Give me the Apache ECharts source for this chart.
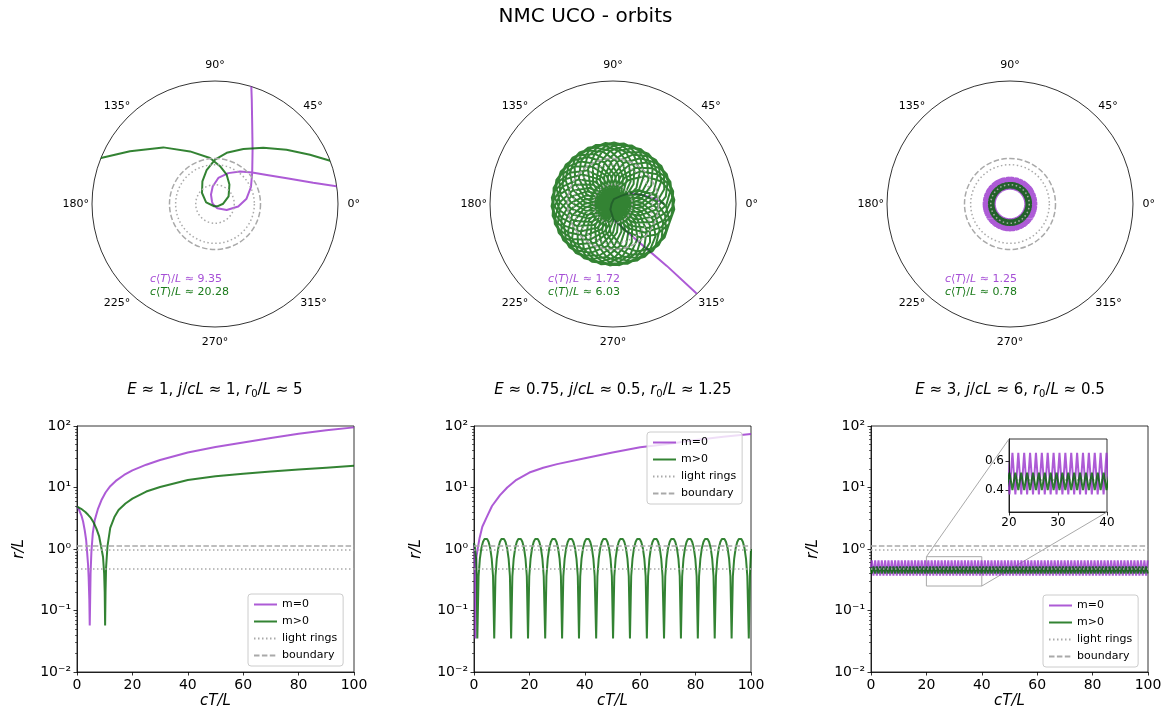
<!DOCTYPE html>
<html><head><meta charset="utf-8">
<script src="https://cdn.jsdelivr.net/npm/echarts@6/dist/echarts.min.js"></script>
<style>html,body{margin:0;padding:0;background:#fff}#c{width:1171px;height:715px}</style>
</head><body><div id="c"></div>
<script>
// ================= DATA =================
const xTicks = [0, 20, 40, 60, 80, 100];
const yTicks = [0.01, 0.1, 1, 10, 100];
const yTickLabels = ['10⁻²', '10⁻¹', '10⁰', '10¹', '10²'];
const angleTicks = [0, 45, 90, 135, 180, 225, 270, 315];
const rMax = 3;
const lightRings = [0.47, 0.96];
const boundary = [1.11];
const paramE = [1, 0.75, 3];
const paramJ = [1, 0.5, 6];
const paramR0 = [5, 1.25, 0.5];
const meanT0 = [9.35, 1.72, 1.25];
const meanTm = [20.28, 6.03, 0.78];
const insetX = [20, 40];
const insetY = [0.25, 0.75];
const insetYTicks = [0.4, 0.6];
const insetXTicks = [20, 30, 40];

// ---- panel 1 ----
const p1PurpleT = [0,0.8,1.6,2.2,2.8,3.3,3.6,4.0,4.2,4.45,4.6,4.75,4.9,5.2,5.7,6.4,7.5,8.8,10.3,12,14,17,20,25,30,40,50,60,70,80,90,100];
const p1PurpleR = [4.9,4.3,3.5,2.8,2.0,1.4,0.95,0.55,0.35,0.15,0.057,0.15,0.4,0.9,1.8,2.95,4.4,6.2,8.3,10.5,12.8,16,19,23.5,28,37,45.5,54,64,75,85,95];
const p1GreenT = [0,1.5,3,4,5,6,7,8,8.7,9.4,9.8,10.0,10.15,10.3,10.5,11,12,13.5,15,17.5,20,25,30,40,50,60,70,80,90,100];
const p1GreenR = [4.9,4.5,4.0,3.6,3.2,2.7,2.15,1.6,1.1,0.74,0.4,0.2,0.057,0.2,0.5,1.1,2.2,3.3,4.3,5.5,6.6,8.6,10.2,13.2,15.2,16.8,18.2,19.6,21,22.5];
const p1PurpleOrbitR = [3.35,3.05,2.45,1.86,1.45,1.19,1.0,0.82,0.64,0.43,0.25,0.1,0.058,0.12,0.32,0.57,0.78,0.97,1.19,1.61,2.17,2.7,3.12,3.4];
const p1PurpleOrbitTh = [7,8,12.2,19.7,29.3,40.3,52.3,66.7,82.7,97.5,113,138,172,298,333,354,9.6,25.3,40.3,55.3,65.3,70.6,73.6,74.8];
const p1GreenOrbitR = [3.35,3.0,2.44,1.87,1.42,1.13,0.93,0.77,0.59,0.38,0.2,0.08,0.058,0.22,0.415,0.63,0.85,1.08,1.28,1.51,1.81,2.19,2.61,3.0,3.3];
const p1GreenOrbitTh = [161,158,148.2,132.4,115.4,96.2,82.4,68.3,53.4,29.3,2,315,250,169.5,139.8,119.2,103.9,90,77.1,62.7,49.4,37.2,27.4,20.6,19];

// ---- panel 2 ----
const p2PurpleT = [0,0.2,0.35,0.45,0.5,0.55,0.65,0.9,1.4,2,3,4.6,6.5,9.4,12,15,20,25,30,40,50,60,70,80,90,100];
const p2PurpleR = [1.25,0.9,0.4,0.15,0.035,0.15,0.4,0.75,1.05,1.5,2.3,3.3,5,7.5,10,13,17.5,21,24,30,37,45,51,59,67,74];
const p2PurpleOrbitR = [1.25,1.06,0.78,0.49,0.28,0.12,0.035,0.15,0.38,0.8,1.27,2.0,2.97,3.3];
const p2PurpleOrbitTh = [0,6,16,33,45,80,170,245,272,298,306,311,313,313.5];
const p2GreenT = [0,0.35,0.75,1.0,
1.2,1.65,2.13,2.68,3.23,3.75,4.26,4.77,5.29,5.84,6.39,6.87,
7.3,7.75,8.23,8.78,9.33,9.85,10.36,10.87,11.39,11.94,12.49,12.97,
13.4,13.85,14.33,14.88,15.43,15.95,16.46,16.97,17.49,18.04,18.59,19.07,
19.5,19.95,20.43,20.98,21.53,22.05,22.56,23.07,23.59,24.14,24.69,25.17,
25.7,26.15,26.63,27.18,27.73,28.25,28.76,29.27,29.79,30.34,30.89,31.37,
31.8,32.25,32.73,33.28,33.83,34.35,34.86,35.37,35.89,36.44,36.99,37.47,
37.9,38.35,38.83,39.38,39.93,40.45,40.96,41.47,41.99,42.54,43.09,43.57,
44.1,44.55,45.03,45.58,46.13,46.65,47.16,47.67,48.19,48.74,49.29,49.77,
50.2,50.65,51.13,51.68,52.23,52.75,53.26,53.77,54.29,54.84,55.39,55.87,
56.3,56.75,57.23,57.78,58.33,58.85,59.36,59.87,60.39,60.94,61.49,61.97,
62.4,62.85,63.33,63.88,64.43,64.95,65.46,65.97,66.49,67.04,67.59,68.07,
68.6,69.05,69.53,70.08,70.63,71.15,71.66,72.17,72.69,73.24,73.79,74.27,
74.7,75.15,75.63,76.18,76.73,77.25,77.76,78.27,78.79,79.34,79.89,80.37,
80.8,81.25,81.73,82.28,82.83,83.35,83.86,84.37,84.89,85.44,85.99,86.47,
86.9,87.35,87.83,88.38,88.93,89.45,89.96,90.47,90.99,91.54,92.09,92.57,
93.0,93.45,93.93,94.48,95.03,95.55,96.06,96.57,97.09,97.64,98.19,98.67,
99.2,99.6,100];
const p2GreenR = [1.25,1.04,0.70,0.36,
0.035,0.36,0.70,1.04,1.30,1.45,1.5,1.45,1.30,1.04,0.70,0.36,
0.035,0.36,0.70,1.04,1.30,1.45,1.5,1.45,1.30,1.04,0.70,0.36,
0.035,0.36,0.70,1.04,1.30,1.45,1.5,1.45,1.30,1.04,0.70,0.36,
0.035,0.36,0.70,1.04,1.30,1.45,1.5,1.45,1.30,1.04,0.70,0.36,
0.035,0.36,0.70,1.04,1.30,1.45,1.5,1.45,1.30,1.04,0.70,0.36,
0.035,0.36,0.70,1.04,1.30,1.45,1.5,1.45,1.30,1.04,0.70,0.36,
0.035,0.36,0.70,1.04,1.30,1.45,1.5,1.45,1.30,1.04,0.70,0.36,
0.035,0.36,0.70,1.04,1.30,1.45,1.5,1.45,1.30,1.04,0.70,0.36,
0.035,0.36,0.70,1.04,1.30,1.45,1.5,1.45,1.30,1.04,0.70,0.36,
0.035,0.36,0.70,1.04,1.30,1.45,1.5,1.45,1.30,1.04,0.70,0.36,
0.035,0.36,0.70,1.04,1.30,1.45,1.5,1.45,1.30,1.04,0.70,0.36,
0.035,0.36,0.70,1.04,1.30,1.45,1.5,1.45,1.30,1.04,0.70,0.36,
0.035,0.36,0.70,1.04,1.30,1.45,1.5,1.45,1.30,1.04,0.70,0.36,
0.035,0.36,0.70,1.04,1.30,1.45,1.5,1.45,1.30,1.04,0.70,0.36,
0.035,0.36,0.70,1.04,1.30,1.45,1.5,1.45,1.30,1.04,0.70,0.36,
0.035,0.36,0.70,1.04,1.30,1.45,1.5,1.45,1.30,1.04,0.70,0.36,
0.035,0.36,1.0];
// full orbit (integration runs past cT/L = 100, so the polar view shows more loops)
const p2GreenOrbitR = [1.25,1.04,0.70,0.36,
0.035,0.36,0.70,1.04,1.30,1.45,1.5,1.45,1.30,1.04,0.70,0.36,
0.035,0.36,0.70,1.04,1.30,1.45,1.5,1.45,1.30,1.04,0.70,0.36,
0.035,0.36,0.70,1.04,1.30,1.45,1.5,1.45,1.30,1.04,0.70,0.36,
0.035,0.36,0.70,1.04,1.30,1.45,1.5,1.45,1.30,1.04,0.70,0.36,
0.035,0.36,0.70,1.04,1.30,1.45,1.5,1.45,1.30,1.04,0.70,0.36,
0.035,0.36,0.70,1.04,1.30,1.45,1.5,1.45,1.30,1.04,0.70,0.36,
0.035,0.36,0.70,1.04,1.30,1.45,1.5,1.45,1.30,1.04,0.70,0.36,
0.035,0.36,0.70,1.04,1.30,1.45,1.5,1.45,1.30,1.04,0.70,0.36,
0.035,0.36,0.70,1.04,1.30,1.45,1.5,1.45,1.30,1.04,0.70,0.36,
0.035,0.36,0.70,1.04,1.30,1.45,1.5,1.45,1.30,1.04,0.70,0.36,
0.035,0.36,0.70,1.04,1.30,1.45,1.5,1.45,1.30,1.04,0.70,0.36,
0.035,0.36,0.70,1.04,1.30,1.45,1.5,1.45,1.30,1.04,0.70,0.36,
0.035,0.36,0.70,1.04,1.30,1.45,1.5,1.45,1.30,1.04,0.70,0.36,
0.035,0.36,0.70,1.04,1.30,1.45,1.5,1.45,1.30,1.04,0.70,0.36,
0.035,0.36,0.70,1.04,1.30,1.45,1.5,1.45,1.30,1.04,0.70,0.36,
0.035,0.36,0.70,1.04,1.30,1.45,1.5,1.45,1.30,1.04,0.70,0.36,
0.035,0.36,0.70,1.04,1.30,1.45,1.5,1.45,1.30,1.04,0.70,0.36,
0.035,0.36,0.70,1.04,1.30,1.45,1.5,1.45,1.30,1.04,0.70,0.36,
0.035,0.36,0.70,1.04,1.30,1.45,1.5,1.45,1.30,1.04,0.70,0.36,
0.035,0.36,0.70,1.04,1.30,1.45,1.5,1.45,1.30,1.04,0.70,0.36,
0.035,0.36,0.70,1.04,1.30,1.45,1.5,1.45,1.30,1.04,0.70,0.36,
0.035,0.36,0.70,1.04,1.30,1.45,1.5,1.45,1.30,1.04,0.70,0.36,
0.035,0.36,0.70,1.04,1.30,1.45,1.5,1.45,1.30,1.04,0.70,0.36,
0.035,0.36,0.70,1.04,1.30,1.45,1.5,1.45,1.30,1.04,0.70,0.36,
0.035,0.36,0.70,1.04,1.30,1.45,1.5,1.45,1.30,1.04,0.70,0.36,
0.035,0.36,0.70,1.04,1.30,1.45,1.5,1.45,1.30,1.04,0.70,0.36,
0.035,0.36,0.70,1.04,1.30,1.45,1.5,1.45,1.30,1.04,0.70,0.36,
0.035,0.36,0.70,1.04,1.30,1.45,1.5,1.45,1.30,1.04,0.70,0.36,
0.035,0.36,0.70,1.04,1.30,1.45,1.5,1.45,1.30,1.04,0.70,0.36,
0.035,0.36,0.70,1.04,1.30,1.45,1.5,1.45,1.30,1.04,0.70,0.36,
0.035,0.36,0.70,1.04,1.30,1.45,1.5,1.45,1.30,1.04,0.70,0.36,
0.035,0.36,0.70,1.04,1.30,1.45,1.5,1.45,1.30,1.04,0.70,0.36,
0.035,0.36,0.70,1.04,1.30,1.45,1.5,1.45,1.30,1.04,0.70,0.36,
0.035,0.36,0.70,1.04,1.30,1.45,1.5,1.45,1.30,1.04,0.70,0.36,
0.035,0.36,0.70,1.04,1.30,1.45,1.5,1.45,1.30,1.04,0.70,0.36,
0.035,0.36,0.70,1.04,1.30,1.45,1.5,1.45,1.30,1.04,0.70,0.36,
0.035,0.36,0.70,1.04,1.30,1.45,1.5,1.45,1.30,1.04,0.70,0.36,
0.035,0.36,0.70,1.04,1.30,1.45,1.5,1.45,1.30,1.04,0.70,0.36,
0.035,0.36,0.70,1.04,1.30,1.45,1.5,1.45,1.30,1.04,0.70,0.36,
0.035,0.36,0.70,1.04,1.30,1.45,1.5,1.45,1.30,1.04,0.70,0.36,
0.035];
const p2GreenOrbitTh = [0,12,28,42,
-94,-81,-67,-51,-35,-20,-5,10,25,41,57,71,
-85,-72,-58,-42,-26,-11,4,19,34,50,66,80,
-77,-64,-50,-34,-18,-3,12,27,42,58,74,88,
-68,-55,-41,-25,-9,6,21,36,51,67,83,97,
-60,-47,-33,-17,-1,14,29,44,59,75,91,105,
-51,-38,-24,-8,8,23,38,53,68,84,100,114,
-43,-30,-16,0,16,31,46,61,76,92,108,122,
-34,-21,-7,9,25,40,55,70,85,101,117,131,
-26,-13,1,17,33,48,63,78,93,109,125,139,
-17,-4,10,26,42,57,72,87,102,118,134,148,
-9,4,18,34,50,65,80,95,110,126,142,156,
0,13,27,43,59,74,89,104,119,135,151,165,
8,21,35,51,67,82,97,112,127,143,159,173,
17,30,44,60,76,91,106,121,136,152,168,182,
25,38,52,68,84,99,114,129,144,160,176,190,
34,47,61,77,93,108,123,138,153,169,185,199,
42,55,69,85,101,116,131,146,161,177,193,207,
51,64,78,94,110,125,140,155,170,186,202,216,
59,72,86,102,118,133,148,163,178,194,210,224,
68,81,95,111,127,142,157,172,187,203,219,233,
76,89,103,119,135,150,165,180,195,211,227,241,
85,98,112,128,144,159,174,189,204,220,236,250,
93,106,120,136,152,167,182,197,212,228,244,258,
102,115,129,145,161,176,191,206,221,237,253,267,
110,123,137,153,169,184,199,214,229,245,261,275,
119,132,146,162,178,193,208,223,238,254,270,284,
127,140,154,170,186,201,216,231,246,262,278,292,
136,149,163,179,195,210,225,240,255,271,287,301,
144,157,171,187,203,218,233,248,263,279,295,309,
153,166,180,196,212,227,242,257,272,288,304,318,
161,174,188,204,220,235,250,265,280,296,312,326,
170,183,197,213,229,244,259,274,289,305,321,335,
178,191,205,221,237,252,267,282,297,313,329,343,
187,200,214,230,246,261,276,291,306,322,338,352,
195,208,222,238,254,269,284,299,314,330,346,360,
204,217,231,247,263,278,293,308,323,339,355,369,
212,225,239,255,271,286,301,316,331,347,363,377,
221,234,248,264,280,295,310,325,340,356,372,386,
229,242,256,272,288,303,318,333,348,364,380,394,
238,251,265,281,297,312,327,342,357,373,389,403,
246];

// ---- panel 3 ----
const p3T = [0,0.3,0.9,1.5,2.1,2.7,3.3,3.9,4.5,5.1,
5.7,6.3,6.9,7.5,8.1,8.7,9.3,9.9,10.5,11.1,
11.7,12.3,12.9,13.5,14.1,14.7,15.3,15.9,16.5,17.1,
17.7,18.3,18.9,19.5,20.1,20.7,21.3,21.9,22.5,23.1,
23.7,24.3,24.9,25.5,26.1,26.7,27.3,27.9,28.5,29.1,
29.7,30.3,30.9,31.5,32.1,32.7,33.3,33.9,34.5,35.1,
35.7,36.3,36.9,37.5,38.1,38.7,39.3,39.9,40.5,41.1,
41.7,42.3,42.9,43.5,44.1,44.7,45.3,45.9,46.5,47.1,
47.7,48.3,48.9,49.5,50.1,50.7,51.3,51.9,52.5,53.1,
53.7,54.3,54.9,55.5,56.1,56.7,57.3,57.9,58.5,59.1,
59.7,60.3,60.9,61.5,62.1,62.7,63.3,63.9,64.5,65.1,
65.7,66.3,66.9,67.5,68.1,68.7,69.3,69.9,70.5,71.1,
71.7,72.3,72.9,73.5,74.1,74.7,75.3,75.9,76.5,77.1,
77.7,78.3,78.9,79.5,80.1,80.7,81.3,81.9,82.5,83.1,
83.7,84.3,84.9,85.5,86.1,86.7,87.3,87.9,88.5,89.1,
89.7,90.3,90.9,91.5,92.1,92.7,93.3,93.9,94.5,95.1,
95.7,96.3,96.9,97.5,98.1,98.7,99.3,99.9];
const p3PurpleR = [0.5,0.655,0.37,0.655,0.37,0.655,0.37,0.655,0.37,0.655,
0.37,0.655,0.37,0.655,0.37,0.655,0.37,0.655,0.37,0.655,
0.37,0.655,0.37,0.655,0.37,0.655,0.37,0.655,0.37,0.655,
0.37,0.655,0.37,0.655,0.37,0.655,0.37,0.655,0.37,0.655,
0.37,0.655,0.37,0.655,0.37,0.655,0.37,0.655,0.37,0.655,
0.37,0.655,0.37,0.655,0.37,0.655,0.37,0.655,0.37,0.655,
0.37,0.655,0.37,0.655,0.37,0.655,0.37,0.655,0.37,0.655,
0.37,0.655,0.37,0.655,0.37,0.655,0.37,0.655,0.37,0.655,
0.37,0.655,0.37,0.655,0.37,0.655,0.37,0.655,0.37,0.655,
0.37,0.655,0.37,0.655,0.37,0.655,0.37,0.655,0.37,0.655,
0.37,0.655,0.37,0.655,0.37,0.655,0.37,0.655,0.37,0.655,
0.37,0.655,0.37,0.655,0.37,0.655,0.37,0.655,0.37,0.655,
0.37,0.655,0.37,0.655,0.37,0.655,0.37,0.655,0.37,0.655,
0.37,0.655,0.37,0.655,0.37,0.655,0.37,0.655,0.37,0.655,
0.37,0.655,0.37,0.655,0.37,0.655,0.37,0.655,0.37,0.655,
0.37,0.655,0.37,0.655,0.37,0.655,0.37,0.655,0.37,0.655,
0.37,0.655,0.37,0.655,0.37,0.655,0.37,0.655];
const p3GreenR = [0.5,0.40,0.52,0.40,0.52,0.40,0.52,0.40,0.52,0.40,
0.52,0.40,0.52,0.40,0.52,0.40,0.52,0.40,0.52,0.40,
0.52,0.40,0.52,0.40,0.52,0.40,0.52,0.40,0.52,0.40,
0.52,0.40,0.52,0.40,0.52,0.40,0.52,0.40,0.52,0.40,
0.52,0.40,0.52,0.40,0.52,0.40,0.52,0.40,0.52,0.40,
0.52,0.40,0.52,0.40,0.52,0.40,0.52,0.40,0.52,0.40,
0.52,0.40,0.52,0.40,0.52,0.40,0.52,0.40,0.52,0.40,
0.52,0.40,0.52,0.40,0.52,0.40,0.52,0.40,0.52,0.40,
0.52,0.40,0.52,0.40,0.52,0.40,0.52,0.40,0.52,0.40,
0.52,0.40,0.52,0.40,0.52,0.40,0.52,0.40,0.52,0.40,
0.52,0.40,0.52,0.40,0.52,0.40,0.52,0.40,0.52,0.40,
0.52,0.40,0.52,0.40,0.52,0.40,0.52,0.40,0.52,0.40,
0.52,0.40,0.52,0.40,0.52,0.40,0.52,0.40,0.52,0.40,
0.52,0.40,0.52,0.40,0.52,0.40,0.52,0.40,0.52,0.40,
0.52,0.40,0.52,0.40,0.52,0.40,0.52,0.40,0.52,0.40,
0.52,0.40,0.52,0.40,0.52,0.40,0.52,0.40,0.52,0.40,
0.52,0.40,0.52,0.40,0.52,0.40,0.52,0.40];
const p3Th = [0,37,74,111,148,185,222,259,296,333,
370,407,444,481,518,555,592,629,666,703,
740,777,814,851,888,925,962,999,1036,1073,
1110,1147,1184,1221,1258,1295,1332,1369,1406,1443,
1480,1517,1554,1591,1628,1665,1702,1739,1776,1813,
1850,1887,1924,1961,1998,2035,2072,2109,2146,2183,
2220,2257,2294,2331,2368,2405,2442,2479,2516,2553,
2590,2627,2664,2701,2738,2775,2812,2849,2886,2923,
2960,2997,3034,3071,3108,3145,3182,3219,3256,3293,
3330,3367,3404,3441,3478,3515,3552,3589,3626,3663,
3700,3737,3774,3811,3848,3885,3922,3959,3996,4033,
4070,4107,4144,4181,4218,4255,4292,4329,4366,4403,
4440,4477,4514,4551,4588,4625,4662,4699,4736,4773,
4810,4847,4884,4921,4958,4995,5032,5069,5106,5143,
5180,5217,5254,5291,5328,5365,5402,5439,5476,5513,
5550,5587,5624,5661,5698,5735,5772,5809,5846,5883,
5920,5957,5994,6031,6068,6105,6142,6179];

// ================= BUILD =================
const FONT = 'DejaVu Sans';
const PURPLE = '#9932cc', GREEN = '#006400', GREY = '#a9a9a9';
const DOT = [1.5, 2.5], DASH = [5.5, 2.4];
const norm = a => ((a % 360) + 360) % 360;
const zipTR = (t, r) => t.map((v, i) => [v, r[i]]);
const zipRTh = (r, th) => r.map((v, i) => [v, norm(th[i])]);

const panels = [
  {t0: p1PurpleT, r0: p1PurpleR, tm: p1GreenT, rm: p1GreenR, o0: zipRTh(p1PurpleOrbitR, p1PurpleOrbitTh), om: zipRTh(p1GreenOrbitR, p1GreenOrbitTh)},
  {t0: p2PurpleT, r0: p2PurpleR, tm: p2GreenT, rm: p2GreenR, o0: zipRTh(p2PurpleOrbitR, p2PurpleOrbitTh), om: zipRTh(p2GreenOrbitR, p2GreenOrbitTh)},
  {t0: p3T, r0: p3PurpleR, tm: p3T, rm: p3GreenR, o0: zipRTh(p3PurpleR, p3Th), om: zipRTh(p3GreenR, p3Th)}
];

// layout
const cx = [215, 613, 1010], cy = 204, PR = 123;
const gLeft = [77, 474, 871], gTop = 426, gW = 277, gH = 246;
const legPos = [[248, 594], [647, 432], [1043, 595]];
// per-label padding so that each angle label is centred ~16px outside the circle
const angRich = {
  a0: {padding: [0, 0, 0, 12.5]}, a45: {padding: [0, 0, 7.5, 3.5]}, a90: {padding: [0, 0, 13, 0]},
  a135: {padding: [0, 0, 8, 0]}, a180: {padding: [0, 6, 0, 0]}, a225: {padding: [9, 0, 0, 0]},
  a270: {padding: [13, 0, 0, 0]}, a315: {padding: [8.5, 0, 0, 0.5]}
};

const minorTicks = [];
for (let k = -2; k <= 1; k++) for (let m = 2; m <= 9; m++) minorTicks.push(+(m * Math.pow(10, k)).toPrecision(3));

const polar = [], angleAxis = [], radiusAxis = [];
for (let i = 0; i < 3; i++) {
  for (let j = 0; j < 3; j++) {
    polar.push({center: [cx[i], cy], radius: PR});
    const pi = 3 * i + j;
    angleAxis.push({
      polarIndex: pi, type: 'value', min: 0, max: 360, startAngle: 0, clockwise: false,
      axisLine: {show: j === 0, lineStyle: {color: '#000', width: 0.8}},
      axisTick: {show: false}, splitLine: {show: false},
      axisLabel: j === 0 ? {show: true, customValues: angleTicks, formatter: v => `{a${v}|${v}°}`, rich: angRich,
        color: '#000', fontSize: 11, fontFamily: FONT, margin: -3} : {show: false}
    });
    const ringVals = j === 1 ? lightRings : boundary;
    radiusAxis.push(j === 0 ? {
      polarIndex: pi, type: 'value', min: 0, max: rMax,
      axisLine: {show: false}, axisTick: {show: false}, axisLabel: {show: false}, splitLine: {show: false}
    } : {
      polarIndex: pi, type: 'value', min: 0, max: rMax, z: 10,
      axisLine: {show: false},
      axisTick: {show: false, customValues: ringVals},
      axisLabel: {show: false, customValues: ringVals},
      splitLine: {show: true, lineStyle: {color: GREY, width: 1.5, type: j === 1 ? DOT : DASH}}
    });
  }
}

const grid = [0, 1, 2].map(i => ({left: gLeft[i], top: gTop, width: gW, height: gH, show: true, borderColor: '#000', borderWidth: 0.8, containLabel: false, outerBoundsMode: 'none'}));
grid.push({left: 1009, top: 439, width: 98, height: 73, show: true, borderColor: '#000', borderWidth: 0.8, backgroundColor: '#fff', containLabel: false, outerBoundsMode: 'none'});

const axTxt = {color: '#000', fontFamily: FONT};
const xAxis = [0, 1, 2].map(i => ({
  gridIndex: i, type: 'value', min: xTicks[0], max: xTicks[xTicks.length - 1], interval: xTicks[1] - xTicks[0],
  axisLine: {show: true, onZero: false, lineStyle: {color: '#000', width: 0.8}},
  axisTick: {show: true, length: 3.5, lineStyle: {color: '#000', width: 0.8}},
  axisLabel: Object.assign({fontSize: 14, margin: 6}, axTxt),
  splitLine: {show: false},
  name: 'cT/L', nameLocation: 'middle', nameGap: 22,
  nameTextStyle: Object.assign({fontStyle: 'italic', fontSize: 15}, axTxt)
}));
xAxis.push({
  gridIndex: 3, type: 'value', min: insetX[0], max: insetX[1], interval: 10,
  axisLine: {show: true, onZero: false, lineStyle: {color: '#000', width: 0.8}},
  axisTick: {show: true, length: 3.5, customValues: insetXTicks, lineStyle: {color: '#000', width: 0.8}},
  axisLabel: Object.assign({fontSize: 12, margin: 5, customValues: insetXTicks}, axTxt),
  splitLine: {show: false}
});
const yAxis = [0, 1, 2].map(i => ({
  gridIndex: i, type: 'log', logBase: 10, min: yTicks[0], max: yTicks[yTicks.length - 1], position: 'left',
  axisLine: {show: true, onZero: false, lineStyle: {color: '#000', width: 0.8}},
  axisTick: {show: true, length: 3.5, customValues: yTicks, lineStyle: {color: '#000', width: 0.8}},
  axisLabel: Object.assign({fontSize: 14, margin: 6, customValues: yTicks,
    formatter: v => yTickLabels[Math.round(Math.log10(v)) - Math.round(Math.log10(yTicks[0]))]}, axTxt),
  splitLine: {show: false},
  name: 'r/L', nameLocation: 'middle', nameGap: 50,
  nameTextStyle: Object.assign({fontStyle: 'italic', fontSize: 15}, axTxt)
}));
for (let i = 0; i < 3; i++) yAxis.push({
  gridIndex: i, type: 'log', logBase: 10, min: yTicks[0], max: yTicks[yTicks.length - 1], position: 'left', offset: 0,
  axisLine: {show: false}, axisLabel: {show: false}, splitLine: {show: false},
  axisTick: {show: true, length: 2, customValues: minorTicks, lineStyle: {color: '#000', width: 0.6}}
});
yAxis.push({
  gridIndex: 3, type: 'value', min: insetY[0], max: insetY[1],
  axisLine: {show: true, onZero: false, lineStyle: {color: '#000', width: 0.8}},
  axisTick: {show: true, length: 3.5, customValues: insetYTicks, lineStyle: {color: '#000', width: 0.8}},
  axisLabel: Object.assign({fontSize: 12, margin: 5, customValues: insetYTicks, formatter: v => v.toFixed(1)}, axTxt),
  splitLine: {show: false}
});

const lineSty = c => ({color: c, width: 2, opacity: 0.8});
const series = [];
for (let i = 0; i < 3; i++) {
  const P = panels[i];
  series.push({type: 'line', name: 'm=0', coordinateSystem: 'polar', polarIndex: 3 * i, data: P.o0, symbol: 'none', lineStyle: lineSty(PURPLE), z: 2, silent: true});
  series.push({type: 'line', name: 'm>0', coordinateSystem: 'polar', polarIndex: 3 * i, data: P.om, symbol: 'none', lineStyle: lineSty(GREEN), z: 3, silent: true});
  series.push({type: 'line', name: 'm=0', xAxisIndex: i, yAxisIndex: i, data: zipTR(P.t0, P.r0), symbol: 'none', lineStyle: lineSty(PURPLE), z: 2, silent: true});
  series.push({type: 'line', name: 'm>0', xAxisIndex: i, yAxisIndex: i, data: zipTR(P.tm, P.rm), symbol: 'none', lineStyle: lineSty(GREEN), z: 3, silent: true});
  series.push({type: 'line', name: 'light rings', xAxisIndex: i, yAxisIndex: i, data: [], symbol: 'none',
    lineStyle: {color: GREY, width: 1.5, type: DOT}, z: 5,
    markLine: {silent: true, symbol: ['none', 'none'], label: {show: false}, animation: false,
      lineStyle: {color: GREY, width: 1.5, type: DOT}, data: lightRings.map(v => ({yAxis: v}))}});
  series.push({type: 'line', name: 'boundary', xAxisIndex: i, yAxisIndex: i, data: [], symbol: 'none',
    lineStyle: {color: GREY, width: 1.5, type: DASH}, z: 5,
    markLine: {silent: true, symbol: ['none', 'none'], label: {show: false}, animation: false,
      lineStyle: {color: GREY, width: 1.5, type: DASH}, data: boundary.map(v => ({yAxis: v}))}});
}
// inset indicator rectangle
series.push({type: 'line', name: '', xAxisIndex: 2, yAxisIndex: 2, data: [], symbol: 'none',
  markArea: {silent: true, itemStyle: {color: 'rgba(0,0,0,0)', borderColor: GREY, borderWidth: 1},
    data: [[{coord: [insetX[0], insetY[0]]}, {coord: [insetX[1], insetY[1]]}]]}});
// inset
series.push({type: 'line', name: 'm=0', xAxisIndex: 3, yAxisIndex: 6, data: zipTR(p3T, p3PurpleR), symbol: 'none', lineStyle: lineSty(PURPLE), z: 6, silent: true});
series.push({type: 'line', name: 'm>0', xAxisIndex: 3, yAxisIndex: 6, data: zipTR(p3T, p3GreenR), symbol: 'none', lineStyle: lineSty(GREEN), z: 7, silent: true});
series.push({type: 'line', name: 'light rings', xAxisIndex: 3, yAxisIndex: 6, data: [], symbol: 'none',
  lineStyle: {color: GREY, width: 1.5, type: DOT}, z: 8,
  markLine: {silent: true, symbol: ['none', 'none'], label: {show: false}, animation: false,
    lineStyle: {color: GREY, width: 1.5, type: DOT},
    data: lightRings.filter(v => v >= insetY[0] && v <= insetY[1]).map(v => ({yAxis: v}))}});

const legendNames = ['m=0', 'm>0', 'light rings', 'boundary'];
const legend = [0, 1, 2].map(i => ({
  left: legPos[i][0], top: legPos[i][1], orient: 'vertical', selectedMode: false,
  data: legendNames.map(n => ({name: n, itemStyle: {opacity: 0}})),
  itemStyle: {opacity: 0},
  itemWidth: 23, itemHeight: 10, itemGap: 6,
  textStyle: {fontSize: 11, color: '#000', fontFamily: FONT},
  backgroundColor: 'rgba(255,255,255,0.8)', borderColor: '#cccccc', borderWidth: 1, borderRadius: 3,
  padding: [5, 6, 5, 5]
}));

// texts
const texts = [];
texts.push({id: 'title', type: 'text', x: 585.5, y: 17, style: {text: 'NMC UCO - orbits', fill: '#000', fontSize: 20, fontFamily: FONT, align: 'center', verticalAlign: 'middle'}});
for (let i = 0; i < 3; i++) {
  texts.push({id: 'sub' + i, type: 'text', x: cx[i], y: 390, style: {
    text: `{i|E} ≈ ${paramE[i]}, {i|j}/{i|cL} ≈ ${paramJ[i]}, {i|r}{s|0}/{i|L} ≈ ${paramR0[i]}`,
    fill: '#000', fontSize: 15, fontFamily: FONT, align: 'center', verticalAlign: 'middle',
    rich: {i: {fontStyle: 'italic', fontSize: 15, fontFamily: FONT, fill: '#000'}, s: {fontSize: 10, fontFamily: FONT, fill: '#000', padding: [8, 0, 0, 0]}}
  }});
  const ann = (val, col, y, id) => ({id, type: 'text', x: cx[i] - 65, y, style: {
    text: `{i|c}⟨{i|T}⟩/{i|L} ≈ ${val.toFixed(2)}`, fill: col, fontSize: 11, fontFamily: FONT, align: 'left', verticalAlign: 'middle',
    rich: {i: {fontStyle: 'italic', fontSize: 11, fontFamily: FONT, fill: col}}
  }});
  texts.push(ann(meanT0[i], '#a64fd6', 279, 'a0' + i));
  texts.push(ann(meanTm[i], '#1a7a1a', 292, 'am' + i));
}

const option = {
  animation: false, backgroundColor: '#fff',
  polar, angleAxis, radiusAxis, grid, xAxis, yAxis, series, legend,
  graphic: {elements: texts}
};
const chart = echarts.init(document.getElementById('c'), null, {renderer: 'canvas'});
chart.setOption(option);

// connector lines from indicator rectangle to the inset
const mainF = {xAxisIndex: 2, yAxisIndex: 2}, insF = {xAxisIndex: 3, yAxisIndex: 6};
const a1 = chart.convertToPixel(mainF, [insetX[0], insetY[1]]);
const b1 = chart.convertToPixel(insF, [insetX[0], insetY[1]]);
const a2 = chart.convertToPixel(mainF, [insetX[1], insetY[0]]);
const b2 = chart.convertToPixel(insF, [insetX[1], insetY[0]]);
chart.setOption({graphic: {elements: texts.concat([
  {id: 'conn1', type: 'line', shape: {x1: a1[0], y1: a1[1], x2: b1[0], y2: b1[1]}, style: {stroke: GREY, lineWidth: 1}, z: 1},
  {id: 'conn2', type: 'line', shape: {x1: a2[0], y1: a2[1], x2: b2[0], y2: b2[1]}, style: {stroke: GREY, lineWidth: 1}, z: 1}
])}});
</script></body></html>
